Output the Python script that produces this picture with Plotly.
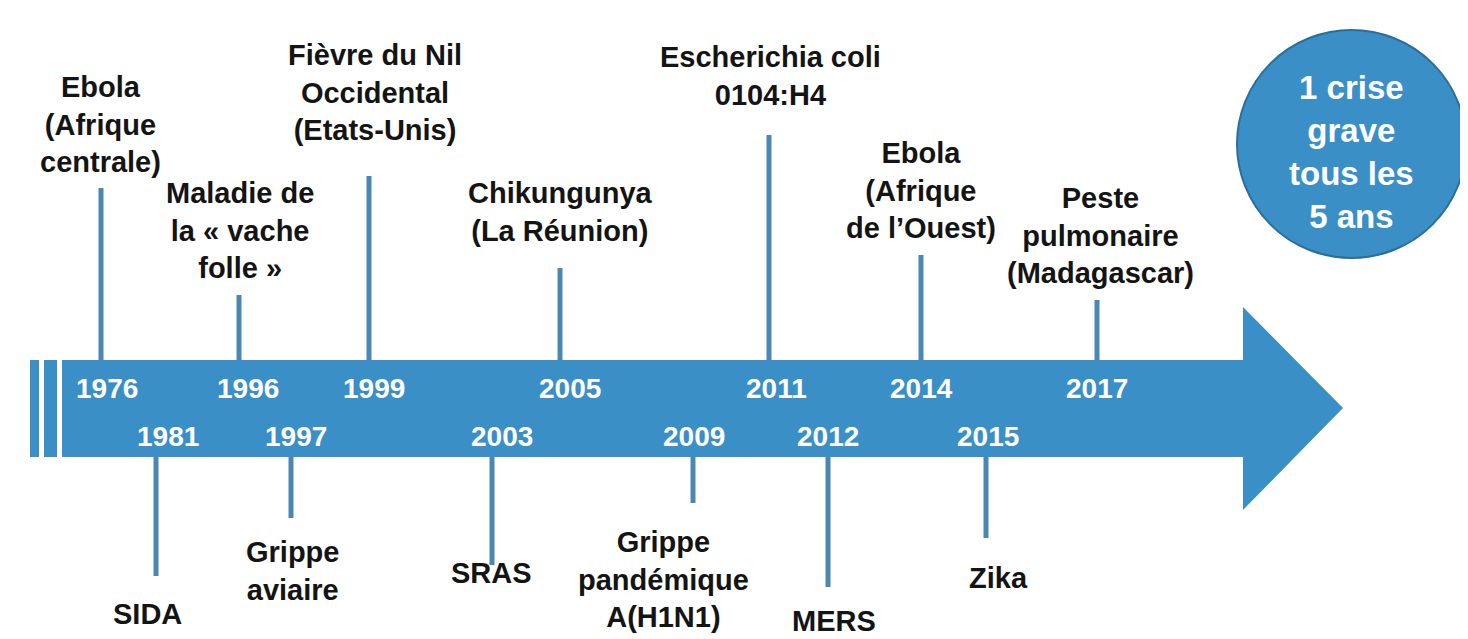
import plotly.graph_objects as go

# ---- data ----
years_above = ["1976", "1996", "1999", "2005", "2011", "2014", "2017"]
events_above = [
    "Ebola<br>(Afrique<br>centrale)",
    "Maladie de<br>la « vache<br>folle »",
    "Fièvre du Nil<br>Occidental<br>(Etats-Unis)",
    "Chikungunya<br>(La Réunion)",
    "Escherichia coli<br>0104:H4",
    "Ebola<br>(Afrique<br>de l’Ouest)",
    "Peste<br>pulmonaire<br>(Madagascar)",
]
years_below = ["1981", "1997", "2003", "2009", "2012", "2015"]
events_below = [
    "SIDA",
    "Grippe<br>aviaire",
    "SRAS",
    "Grippe<br>pandémique<br>A(H1N1)",
    "MERS",
    "Zika",
]
summary_text = "1 crise<br>grave<br>tous les<br>5 ans"

# ---- layout (pixel canvas 1468 x 639; page body has an 8px margin) ----
W, H = 1468, 639
OFF = 8
BAR_TOP, BAR_BOT = 360, 457
above_stem_x = [101, 239, 369, 560, 769, 921, 1097]
above_stem_top = [188, 295, 176, 268, 135, 255, 300]
above_year_x = [107, 248, 374, 570, 776, 921, 1097]
above_label_x = [100, 240, 375, 560, 770, 921, 1100]
above_label_y = [124, 230, 92, 212, 76, 190, 235]

below_stem_x = [156, 291, 492, 693, 828, 986]
below_stem_bot = [576, 518, 565, 503, 587, 538]
below_year_x = [168, 296, 502, 694, 828, 988]
below_label_x = [147, 292, 491, 663, 834, 998]
below_label_y = [614, 571, 573, 579, 621, 578]

BLUE = "#3A8FC7"
STEM = "#4A87B3"
FONT = "Liberation Sans, Arial, sans-serif"

fig = go.Figure()

# arrow body + head
arrow_x = [62, 1243, 1243, 1343, 1243, 1243, 62, 62]
arrow_y = [BAR_TOP, BAR_TOP, 307, 408, 510, BAR_BOT, BAR_BOT, BAR_TOP]
fig.add_trace(go.Scatter(x=arrow_x, y=arrow_y, fill="toself", fillcolor=BLUE,
                         mode="lines", line=dict(width=0), hoverinfo="skip"))
# left stripes
for x0, x1 in [(30, 39), (44, 57)]:
    fig.add_trace(go.Scatter(x=[x0, x1, x1, x0, x0],
                             y=[BAR_TOP, BAR_TOP, BAR_BOT, BAR_BOT, BAR_TOP],
                             fill="toself", fillcolor=BLUE, mode="lines",
                             line=dict(width=0), hoverinfo="skip"))

# stems
sx, sy = [], []
for x, t in zip(above_stem_x, above_stem_top):
    sx += [x, x, None]
    sy += [BAR_TOP, t, None]
for x, b in zip(below_stem_x, below_stem_bot):
    sx += [x, x, None]
    sy += [BAR_BOT, b, None]
fig.add_trace(go.Scatter(x=sx, y=sy, mode="lines", line=dict(color=STEM, width=5),
                         hoverinfo="skip"))

# circle
fig.add_shape(type="circle", x0=1237, y0=30, x1=1466, y1=258,
              fillcolor=BLUE, line=dict(color="#2B6E9C", width=2), layer="below")

# year labels
for x, yr in zip(above_year_x, years_above):
    fig.add_annotation(x=x, y=388, text=f"<b>{yr}</b>", showarrow=False,
                       font=dict(family=FONT, size=28, color="white"),
                       xanchor="center", yanchor="middle")
for x, yr in zip(below_year_x, years_below):
    fig.add_annotation(x=x, y=436, text=f"<b>{yr}</b>", showarrow=False,
                       font=dict(family=FONT, size=28, color="white"),
                       xanchor="center", yanchor="middle")

# event labels
for x, y, t in zip(above_label_x, above_label_y, events_above):
    fig.add_annotation(x=x, y=y, text=f"<b>{t}</b>", showarrow=False,
                       font=dict(family=FONT, size=29, color="#141414"),
                       xanchor="center", yanchor="middle", align="center")
for x, y, t in zip(below_label_x, below_label_y, events_below):
    fig.add_annotation(x=x, y=y, text=f"<b>{t}</b>", showarrow=False,
                       font=dict(family=FONT, size=29, color="#141414"),
                       xanchor="center", yanchor="middle", align="center")

# circle text
fig.add_annotation(x=1351, y=152, text=f"<b>{summary_text}</b>", showarrow=False,
                   font=dict(family=FONT, size=33, color="white"),
                   xanchor="center", yanchor="middle", align="center")

fig.update_layout(
    width=W - OFF, height=H - OFF,
    margin=dict(l=0, r=0, t=0, b=0),
    paper_bgcolor="white", plot_bgcolor="white",
    showlegend=False,
    xaxis=dict(range=[OFF, W], visible=False, fixedrange=True),
    yaxis=dict(range=[H, OFF], visible=False, fixedrange=True),
)

fig.write_html("out.html")
